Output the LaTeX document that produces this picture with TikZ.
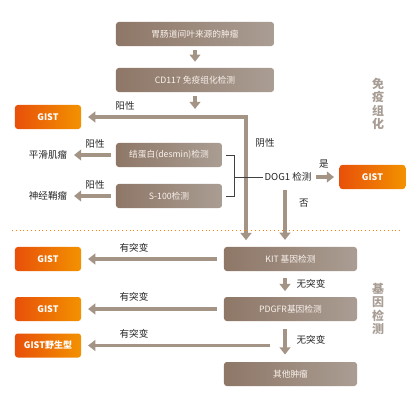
\documentclass[tikz,border=0pt]{standalone}
\usepackage{fontspec}
\setmainfont{Noto Sans CJK SC}
\usetikzlibrary{positioning,arrows.meta,calc}
\definecolor{brownL}{HTML}{8E7767}
\definecolor{brownR}{HTML}{AA9D93}
\definecolor{orgL}{HTML}{E8500A}
\definecolor{orgR}{HTML}{F39200}
\definecolor{arw}{HTML}{A39486}
\definecolor{sidegray}{HTML}{A89D94}

\begin{document}
\begin{tikzpicture}[x=0.025cm,y=-0.025cm,font=\fontsize{6.2}{7}\selectfont,
  stage/.style={rectangle,rounded corners=2pt,left color=brownL,right color=brownR,text=white!90!brown,align=center,inner sep=0pt,minimum height=0.6cm},
  wide/.style={stage,minimum width=3.95cm},
  mid/.style={stage,minimum width=3.325cm},
  small/.style={stage,minimum width=2.65cm},
  gist/.style={rectangle,rounded corners=2pt,left color=orgL,right color=orgR,text=white,font=\fontsize{6.4}{7}\selectfont\bfseries,minimum width=1.65cm,minimum height=0.6cm,inner sep=0pt},
  ar/.style={-{Triangle[length=1.8mm,width=2.7mm]},line width=2.6pt,arw},
  lbl/.style={text=black!85,inner sep=1pt,font=\fontsize{6.8}{8}\selectfont},
  brk/.style={black!75,line width=0.6pt},
  side/.style={text=sidegray,font=\fontsize{8.5}{9.4}\selectfont\bfseries,align=center}]
\useasboundingbox[fill=white] (0,0) rectangle (420,420);
% immunohistochemistry
\node[wide](src) at (195,34){胃肠道间叶来源的肿瘤};
\node[wide](cd) at (195,80){CD117 免疫组化检测};
\node[gist](g1) at (48,117){GIST};
\node[small](des) at (169,155){结蛋白(desmin)检测};
\node[small](s100) at (169,196){S-100检测};
\node[lbl](smo) at (48,155){平滑肌瘤};
\node[lbl](neu) at (48,196){神经鞘瘤};
\node[lbl](dog) at (288,177){DOG1 检测};
\node[gist](g2) at (372.5,177){GIST};
\coordinate (cdtip) at (195,109);
\coordinate (br) at (246,117);
\coordinate (bk) at (234,177);
\coordinate (dogd) at (285,190);
\draw[ar,shorten <=1mm,shorten >=1.5mm](src)--(cd);
\draw[ar,shorten <=1mm](cd.south)--(cdtip);
\draw[ar,{Triangle[length=1.8mm,width=2.7mm]}-{Triangle[length=1.8mm,width=2.7mm]},line join=miter,shorten <=1.7mm,shorten >=1.7mm](br |- 0,247)--(br)--(g1.east);
\node[lbl] at (125,106){阳性};
\node[lbl] at (265,143){阴性};
\draw[ar,shorten <=1.2mm,shorten >=1.3mm](des.west)--(smo.east);
\draw[ar,shorten <=1.2mm,shorten >=1.3mm](s100.west)--(neu.east);
\node[lbl] at (95,144){阳性};
\node[lbl] at (95,185){阳性};
\draw[brk]([xshift=1mm]des.east)-|(bk |- s100.east)--([xshift=1mm]s100.east);
\draw[brk](bk |- des.east)--(bk)--(dog.west);
\draw[ar,shorten <=0.8mm,shorten >=1.3mm](dog.east)--(g2.west);
\node[lbl] at (324,164){是};
\draw[orange,dotted,line width=0.7pt](12,230)--(403,230);
% gene tests
\node[mid](kit) at (290.5,259){KIT 基因检测};
\node[gist](g3) at (48,259){GIST};
\node[mid](pdg) at (290.5,309){PDGFR基因检测};
\node[gist](g4) at (48,309){GIST};
\node[gist](g5) at (48,345.5){GIST野生型};
\node[mid](oth) at (290.5,374){其他肿瘤};
\coordinate (wt) at (270,345.5);
\draw[ar,shorten >=1.7mm](dogd)--(dogd |- kit.north);
\node[lbl] at (304,203){否};
\draw[ar,shorten <=1.7mm,shorten >=1.7mm](kit.west)--(g3.east);
\node[lbl] at (134,248){有突变};
\draw[ar,shorten <=1.7mm,shorten >=1.4mm](dogd |- kit.south)--(dogd |- pdg.north);
\node[lbl] at (311,284){无突变};
\draw[ar,shorten <=1.7mm,shorten >=1.7mm](pdg.west)--(g4.east);
\node[lbl] at (134,297){有突变};
\draw[ar,shorten <=2mm,shorten >=1.8mm](dogd |- pdg.south)--(dogd |- oth.north);
\node[lbl] at (311,340){无突变};
\draw[ar,shorten >=1.7mm](wt)--(g5.east);
\node[lbl] at (134,334){有突变};
% side titles
\node[side] at (378,104){免\\疫\\组\\化};
\node[side] at (378,309){基\\因\\检\\测};
\end{tikzpicture}
\end{document}
